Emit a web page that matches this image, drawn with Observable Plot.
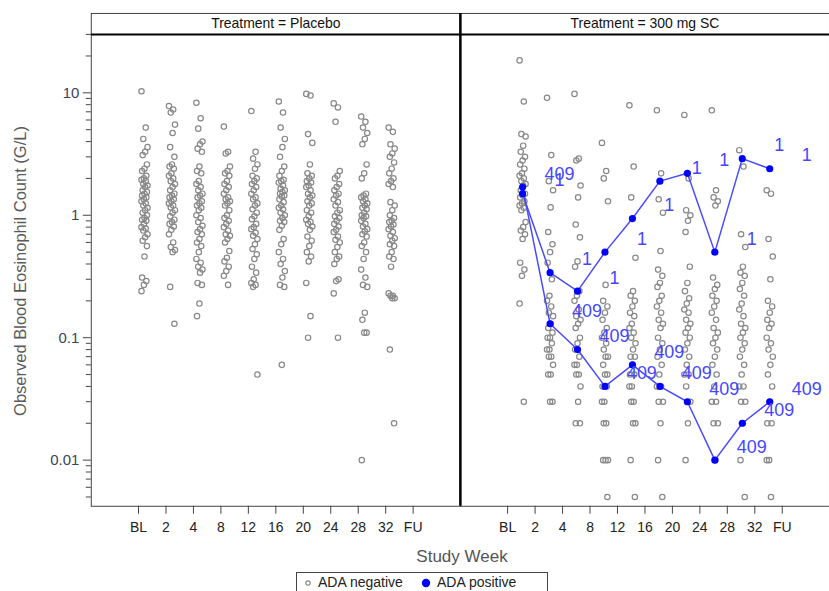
<!DOCTYPE html>
<html>
<head>
<meta charset="utf-8">
<script src="https://cdn.jsdelivr.net/npm/d3@7"></script>
<script src="https://cdn.jsdelivr.net/npm/@observablehq/plot@0.6"></script>
<style>
  body { margin: 0; overflow: hidden; background: #fff; font-family: "Liberation Sans", Arial, sans-serif; }
  #wrap { position: relative; width: 829px; height: 591px; overflow: hidden; }
  #chart { position: absolute; left: 0; top: 0; }
  #ytitle { position: absolute; left: 20px; top: 271px; transform: translate(-50%, -50%) rotate(-90deg);
            white-space: nowrap; font-size: 16.5px; color: #5a5a5a; }
  #xtitle { position: absolute; left: 462px; top: 557px; transform: translate(-50%, -50%);
            white-space: nowrap; font-size: 17px; color: #555; }
  #legend { position: absolute; left: 296px; top: 572px; width: 252px; height: 26px;
            border: 1px solid #444; box-sizing: border-box; font-size: 14px; line-height: 16px; color: #222; }
  #legend .item { position: absolute; top: 1px; white-space: nowrap; }
  #legend svg { position: absolute; }
</style>
</head>
<body>
<div id="wrap">
  <div id="chart"></div>
  <div id="ytitle">Observed Blood Eosinophil Count (G/L)</div>
  <div id="xtitle">Study Week</div>
  <div id="legend"></div>
</div>
<script>
// Visit categories along the x axis
const weeks = ["BL", "2", "4", "8", "12", "16", "20", "24", "28", "32", "FU"];
const treatments = ["Placebo", "300 mg SC"];
const yMajorTicks = [0.01, 0.1, 1, 10];

// ADA-negative observations, Placebo arm, one list per visit (BL .. week 32)
const placeboNeg = [
  [10.3, 5.2, 4.2, 3.6, 3.3, 3.1, 2.6, 2.4, 2.3, 2.1, 2.0, 1.95, 1.9, 1.8, 1.75, 1.7, 1.6, 1.55, 1.5, 1.45, 1.4, 1.35, 1.3, 1.25, 1.2, 1.15, 1.1, 1.05, 1.0, 0.95, 0.92, 0.9, 0.85, 0.8, 0.78, 0.75, 0.7, 0.66, 0.62, 0.56, 0.46, 0.31, 0.29, 0.27, 0.24],
  [7.8, 7.3, 6.9, 5.5, 4.7, 3.6, 3.0, 2.6, 2.5, 2.4, 2.2, 2.1, 2.0, 1.9, 1.8, 1.7, 1.6, 1.5, 1.45, 1.4, 1.35, 1.3, 1.25, 1.2, 1.16, 1.1, 1.05, 0.98, 0.92, 0.88, 0.85, 0.81, 0.76, 0.7, 0.6, 0.55, 0.52, 0.5, 0.26, 0.13],
  [8.3, 6.2, 5.1, 4.0, 3.8, 3.5, 3.3, 2.5, 2.3, 2.2, 1.9, 1.8, 1.7, 1.6, 1.5, 1.45, 1.4, 1.3, 1.25, 1.2, 1.15, 1.1, 1.0, 0.95, 0.88, 0.82, 0.77, 0.73, 0.7, 0.64, 0.6, 0.56, 0.5, 0.44, 0.41, 0.38, 0.36, 0.34, 0.28, 0.27, 0.19, 0.15],
  [5.3, 3.3, 3.2, 2.5, 2.3, 2.2, 2.1, 1.9, 1.8, 1.7, 1.6, 1.5, 1.4, 1.35, 1.3, 1.25, 1.2, 1.1, 1.0, 0.95, 0.9, 0.85, 0.8, 0.75, 0.7, 0.68, 0.64, 0.6, 0.51, 0.45, 0.42, 0.38, 0.35, 0.32, 0.27],
  [7.1, 3.3, 2.9, 2.6, 2.4, 2.1, 2.0, 1.9, 1.8, 1.7, 1.6, 1.5, 1.4, 1.35, 1.25, 1.2, 1.12, 1.05, 0.98, 0.93, 0.85, 0.8, 0.77, 0.72, 0.68, 0.64, 0.58, 0.53, 0.48, 0.44, 0.38, 0.34, 0.3, 0.28, 0.27, 0.26, 0.05],
  [8.5, 6.9, 5.2, 4.2, 3.6, 3.0, 2.5, 2.3, 2.1, 1.95, 1.9, 1.85, 1.75, 1.65, 1.6, 1.55, 1.5, 1.45, 1.42, 1.35, 1.28, 1.2, 1.15, 1.12, 1.05, 1.0, 0.95, 0.9, 0.88, 0.82, 0.76, 0.64, 0.58, 0.5, 0.44, 0.4, 0.35, 0.31, 0.27, 0.26, 0.06],
  [9.8, 9.5, 4.6, 3.9, 2.6, 2.2, 2.1, 2.0, 1.9, 1.85, 1.75, 1.7, 1.6, 1.5, 1.45, 1.4, 1.3, 1.25, 1.2, 1.1, 1.05, 0.98, 0.92, 0.88, 0.85, 0.81, 0.76, 0.67, 0.62, 0.56, 0.5, 0.46, 0.42, 0.28, 0.15, 0.1],
  [8.2, 7.6, 5.8, 2.3, 2.1, 2.0, 1.8, 1.7, 1.6, 1.5, 1.45, 1.35, 1.28, 1.2, 1.1, 1.05, 0.98, 0.95, 0.9, 0.85, 0.81, 0.76, 0.73, 0.67, 0.63, 0.6, 0.55, 0.5, 0.46, 0.44, 0.4, 0.3, 0.29, 0.23, 0.1],
  [6.4, 5.8, 5.2, 4.7, 4.2, 3.8, 2.6, 2.2, 2.0, 1.5, 1.45, 1.4, 1.35, 1.3, 1.25, 1.2, 1.15, 1.12, 1.05, 1.0, 0.98, 0.95, 0.9, 0.85, 0.81, 0.77, 0.74, 0.7, 0.67, 0.6, 0.56, 0.5, 0.44, 0.36, 0.31, 0.27, 0.26, 0.16, 0.14, 0.11, 0.11, 0.01],
  [5.2, 4.8, 3.8, 3.5, 3.2, 3.0, 2.7, 2.4, 2.2, 2.0, 1.9, 1.8, 1.7, 1.28, 1.2, 1.1, 1.0, 0.95, 0.9, 0.88, 0.84, 0.81, 0.77, 0.73, 0.68, 0.65, 0.62, 0.58, 0.56, 0.5, 0.46, 0.44, 0.38, 0.23, 0.22, 0.22, 0.21, 0.21, 0.08, 0.02]
];

// ADA-negative observations, 300 mg SC arm, one list per visit (BL .. week 32)
const sc300Neg = [
  [18.4, 8.5, 4.6, 4.4, 3.7, 3.3, 3.0, 2.8, 2.6, 2.4, 2.2, 2.1, 2.0, 1.9, 1.8, 1.75, 1.6, 1.5, 1.45, 1.4, 1.3, 1.25, 1.2, 1.15, 1.1, 0.88, 0.8, 0.75, 0.7, 0.64, 0.41, 0.36, 0.32, 0.19, 0.03],
  [9.1, 3.1, 1.9, 1.6, 1.16, 0.73, 0.58, 0.5, 0.41, 0.3, 0.22, 0.2, 0.18, 0.16, 0.15, 0.13, 0.12, 0.11, 0.1, 0.1, 0.09, 0.08, 0.08, 0.07, 0.07, 0.06, 0.05, 0.05, 0.03, 0.03],
  [9.8, 2.9, 2.8, 1.75, 1.4, 0.84, 0.66, 0.42, 0.38, 0.24, 0.22, 0.2, 0.17, 0.15, 0.14, 0.13, 0.12, 0.1, 0.09, 0.08, 0.07, 0.06, 0.06, 0.05, 0.05, 0.04, 0.03, 0.02, 0.02],
  [3.9, 2.3, 2.0, 1.3, 0.27, 0.2, 0.18, 0.16, 0.14, 0.12, 0.11, 0.1, 0.09, 0.08, 0.07, 0.07, 0.06, 0.05, 0.05, 0.04, 0.04, 0.03, 0.03, 0.02, 0.02, 0.01, 0.01, 0.01, 0.005],
  [7.9, 2.5, 1.4, 0.45, 0.24, 0.22, 0.2, 0.18, 0.16, 0.15, 0.13, 0.12, 0.11, 0.1, 0.09, 0.08, 0.07, 0.07, 0.06, 0.05, 0.05, 0.04, 0.04, 0.03, 0.03, 0.02, 0.02, 0.01, 0.005],
  [7.2, 2.2, 1.35, 1.05, 0.51, 0.36, 0.32, 0.28, 0.26, 0.22, 0.2, 0.18, 0.16, 0.14, 0.13, 0.12, 0.1, 0.09, 0.08, 0.07, 0.06, 0.05, 0.04, 0.04, 0.03, 0.03, 0.02, 0.01, 0.005],
  [6.6, 2.0, 1.1, 1.0, 0.9, 0.73, 0.38, 0.28, 0.24, 0.21, 0.19, 0.17, 0.16, 0.14, 0.13, 0.12, 0.11, 0.1, 0.09, 0.08, 0.07, 0.06, 0.05, 0.05, 0.04, 0.03, 0.02, 0.01],
  [7.2, 1.6, 1.4, 1.3, 1.2, 0.31, 0.27, 0.25, 0.22, 0.2, 0.18, 0.16, 0.14, 0.12, 0.11, 0.1, 0.09, 0.08, 0.07, 0.06, 0.05, 0.04, 0.03, 0.03, 0.02, 0.02, 0.01],
  [3.4, 2.5, 0.7, 0.55, 0.38, 0.34, 0.32, 0.28, 0.25, 0.22, 0.19, 0.17, 0.15, 0.13, 0.12, 0.11, 0.1, 0.09, 0.08, 0.07, 0.06, 0.05, 0.04, 0.04, 0.03, 0.03, 0.02, 0.01, 0.005],
  [1.6, 1.5, 0.64, 0.46, 0.3, 0.2, 0.18, 0.16, 0.14, 0.13, 0.12, 0.1, 0.09, 0.08, 0.07, 0.06, 0.05, 0.04, 0.03, 0.02, 0.02, 0.01, 0.01, 0.005]
];

// ADA-positive subjects (300 mg SC), BL .. week 32
const adaPosIds = ["1", "409"];
const subject1 = [1.5, 0.34, 0.24, 0.5, 0.94, 1.9, 2.2, 0.5, 2.9, 2.4];
const subject409 = [1.7, 0.13, 0.08, 0.04, 0.06, 0.04, 0.03, 0.01, 0.02, 0.03];

// ---- tables for the marks ----
const negRows = [];
[placeboNeg, sc300Neg].forEach((cols, t) => {
  cols.forEach((vals, visit) => {
    vals.forEach((v, j) => {
      // small deterministic horizontal spread inside a visit column
      const spread = (((j * 7) % 11) - 5) * 0.022;
      negRows.push({trt: treatments[t], visit, x: visit + spread, v});
    });
  });
});
const posRows = [];
[subject1, subject409].forEach((vals, s) => {
  vals.forEach((v, visit) => posRows.push({trt: treatments[1], id: adaPosIds[s], visit, v}));
});

const xDomain = [-1.72, 11.72];
const yDomain = [0.0042, 30];
const minorTicks = [];
for (const decade of [0.001, 0.01, 0.1, 1, 10]) {
  for (let k = 2; k <= 9; k++) {
    const t = +(k * decade).toPrecision(3);
    if (t >= yDomain[0] && t <= yDomain[1]) minorTicks.push(t);
  }
}

const blue = "#0000ff";
const chart = Plot.plot({
  width: 831,
  height: 566,
  marginTop: 34,
  marginBottom: 59,
  marginLeft: 91,
  marginRight: 0,
  style: {fontFamily: "'Liberation Sans', Arial, sans-serif", background: "transparent", overflow: "visible"},
  fx: {domain: treatments, padding: 0, label: null, axis: null},
  x: {domain: xDomain, axis: null},
  y: {type: "log", domain: yDomain, axis: null},
  marks: [
    // grey ADA-negative dots, Placebo and 300 mg SC columns
    Plot.dot(negRows.filter(d => d.trt === treatments[0]), {
      fx: "trt", x: "x", y: "v", dx: 6, r: 2.7, stroke: "#888", strokeWidth: 1.2, fill: "none"
    }),
    Plot.dot(negRows.filter(d => d.trt === treatments[1]), {
      fx: "trt", x: "x", y: "v", dx: 15, r: 2.7, stroke: "#888", strokeWidth: 1.2, fill: "none"
    }),
    // ADA-positive subject profiles
    Plot.line(posRows, {fx: "trt", x: "visit", y: "v", z: "id", dx: 15, stroke: "#4a4aff", strokeWidth: 1.5}),
    Plot.dot(posRows, {fx: "trt", x: "visit", y: "v", dx: 15, r: 3.6, fill: blue}),
    Plot.text(posRows, {fx: "trt", x: "visit", y: "v", text: "id", dx: 52, dy: -13, fill: "#4646ff", fontSize: 18}),
    // panel borders, header strip and divider
    Plot.frame({stroke: "#444", strokeWidth: 1, insetTop: -21}),
    Plot.ruleY([yDomain[1]], {stroke: "#000", strokeWidth: 2}),
    Plot.ruleX([treatments[1]], {fx: d => d, x: () => xDomain[0], stroke: "#000", strokeWidth: 2.5, insetTop: -21}),
    // axes
    Plot.axisFx({anchor: "top", tickSize: 0, tickPadding: 6, label: null, fontSize: 14, fill: "#111",
                 tickFormat: d => `Treatment = ${d}`}),
    Plot.axisY({anchor: "left", ticks: minorTicks, tickSize: 5, tickFormat: () => "", label: null, stroke: "#444"}),
    Plot.axisY({anchor: "left", ticks: yMajorTicks, tickSize: 8, tickPadding: 4, label: null, fontSize: 15,
                fill: "#3b4458", stroke: "#444", tickFormat: d => String(d)}),
    Plot.axisX({anchor: "bottom", ticks: d3.range(weeks.length), tickSize: 8, tickPadding: 8, label: null,
                fontSize: 14, fill: "#222", stroke: "#444", tickFormat: i => weeks[i]})
  ]
});
document.getElementById("chart").append(chart);

// legend below the panels
const legend = document.getElementById("legend");
legend.innerHTML = `
  <svg width="12" height="12" style="left:5px;top:4px"><circle cx="6" cy="6" r="2.2" fill="none" stroke="#8a8a8a" stroke-width="1.2"/></svg>
  <span class="item" style="left:21px">ADA negative</span>
  <svg width="12" height="12" style="left:123px;top:4px"><circle cx="6" cy="6" r="4.2" fill="${blue}"/></svg>
  <span class="item" style="left:140px">ADA positive</span>`;
</script>
</body>
</html>
